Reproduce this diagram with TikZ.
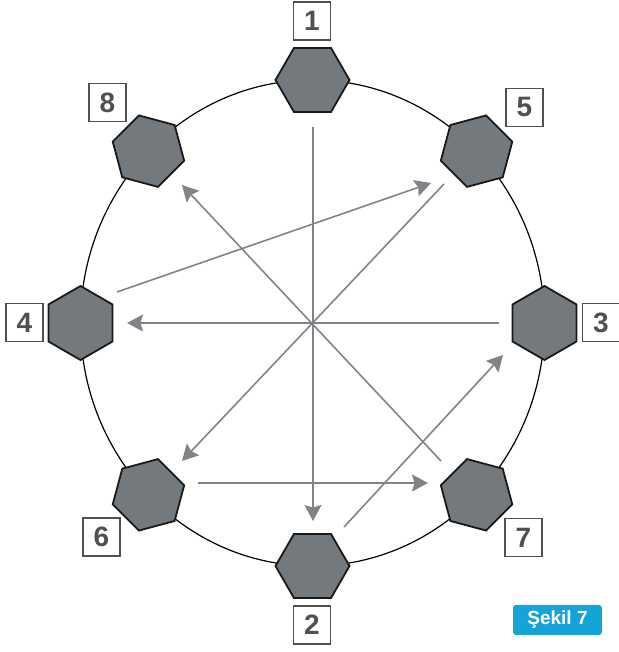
\documentclass[tikz,border=0pt]{standalone}
\usepackage{fontspec}
\setmainfont{Liberation Sans}
\usetikzlibrary{arrows.meta,calc}
\definecolor{hexfill}{RGB}{116,121,125}
\definecolor{arr}{RGB}{128,132,136}
\definecolor{lbl}{RGB}{80,80,80}
\definecolor{badge}{RGB}{22,163,216}
\begin{document}
\begin{tikzpicture}[x=1pt,y=1pt,
  hexa/.style={draw=black!90, line width=1.8pt, fill=hexfill, line join=miter},
  numbox/.style={draw=lbl, line width=1.3pt, minimum width=37pt, minimum height=38pt, inner sep=0pt, font=\fontsize{28}{28}\selectfont\bfseries, text=lbl},
  badgebox/.style={fill=badge, rounded corners=3pt, minimum width=89pt, minimum height=30pt, inner sep=0pt, text=white, font=\fontsize{19}{19}\selectfont\bfseries},
  conn/.style={draw=arr, line width=1.6pt, -{Stealth[length=16pt,width=17pt,inset=2.5pt]}},
]
\useasboundingbox (0,0) rectangle (618,652);
\coordinate (c) at (312.5,329);
\draw[line width=1.2pt] (c) ellipse [x radius=232, y radius=243];
\foreach \n/\a in {1/90,5/45,3/0,7/-45,2/-90,6/-135,4/180,8/135}{
  \coordinate (h\n) at ($(c)+(\a:232 and 243)$);
  \draw[hexa, shift={(h\n)}] (\a+90:37) -- (\a+150:37) -- (\a+210:37) -- (\a+270:37) -- (\a+330:37) -- (\a+390:37) -- cycle;
}
% arrow end points
\coordinate (a1s) at (313,525); \coordinate (a1e) at (313,131);
\coordinate (a2s) at (499,329); \coordinate (a2e) at (127,329);
\coordinate (a3s) at (441,191); \coordinate (a3e) at (182,467);
\coordinate (a4s) at (444,468); \coordinate (a4e) at (182,191);
\coordinate (a5s) at (117,360); \coordinate (a5e) at (431,469);
\coordinate (a6s) at (198,169); \coordinate (a6e) at (428,169);
\coordinate (a7s) at (344,125); \coordinate (a7e) at (503,297);
\draw[conn] (a1s) -- (a1e);
\draw[conn] (a2s) -- (a2e);
\draw[conn] (a3s) -- (a3e);
\draw[conn] (a4s) -- (a4e);
\draw[conn] (a5s) -- (a5e);
\draw[conn] (a6s) -- (a6e);
\draw[conn] (a7s) -- (a7e);
% labels
\node[numbox] (l1) at (312,631) {1};
\node[numbox] (l2) at (312,27) {2};
\node[numbox] (l3) at (601,329.5) {3};
\node[numbox] (l4) at (24.5,329.5) {4};
\node[numbox] (l5) at (524.5,544.5) {5};
\node[numbox] (l6) at (101.5,115) {6};
\node[numbox] (l7) at (523.5,114.5) {7};
\node[numbox] (l8) at (107.5,549.5) {8};
\node[badgebox] (sk) at (557.5,32) {Şekil 7};
\end{tikzpicture}
\end{document}
